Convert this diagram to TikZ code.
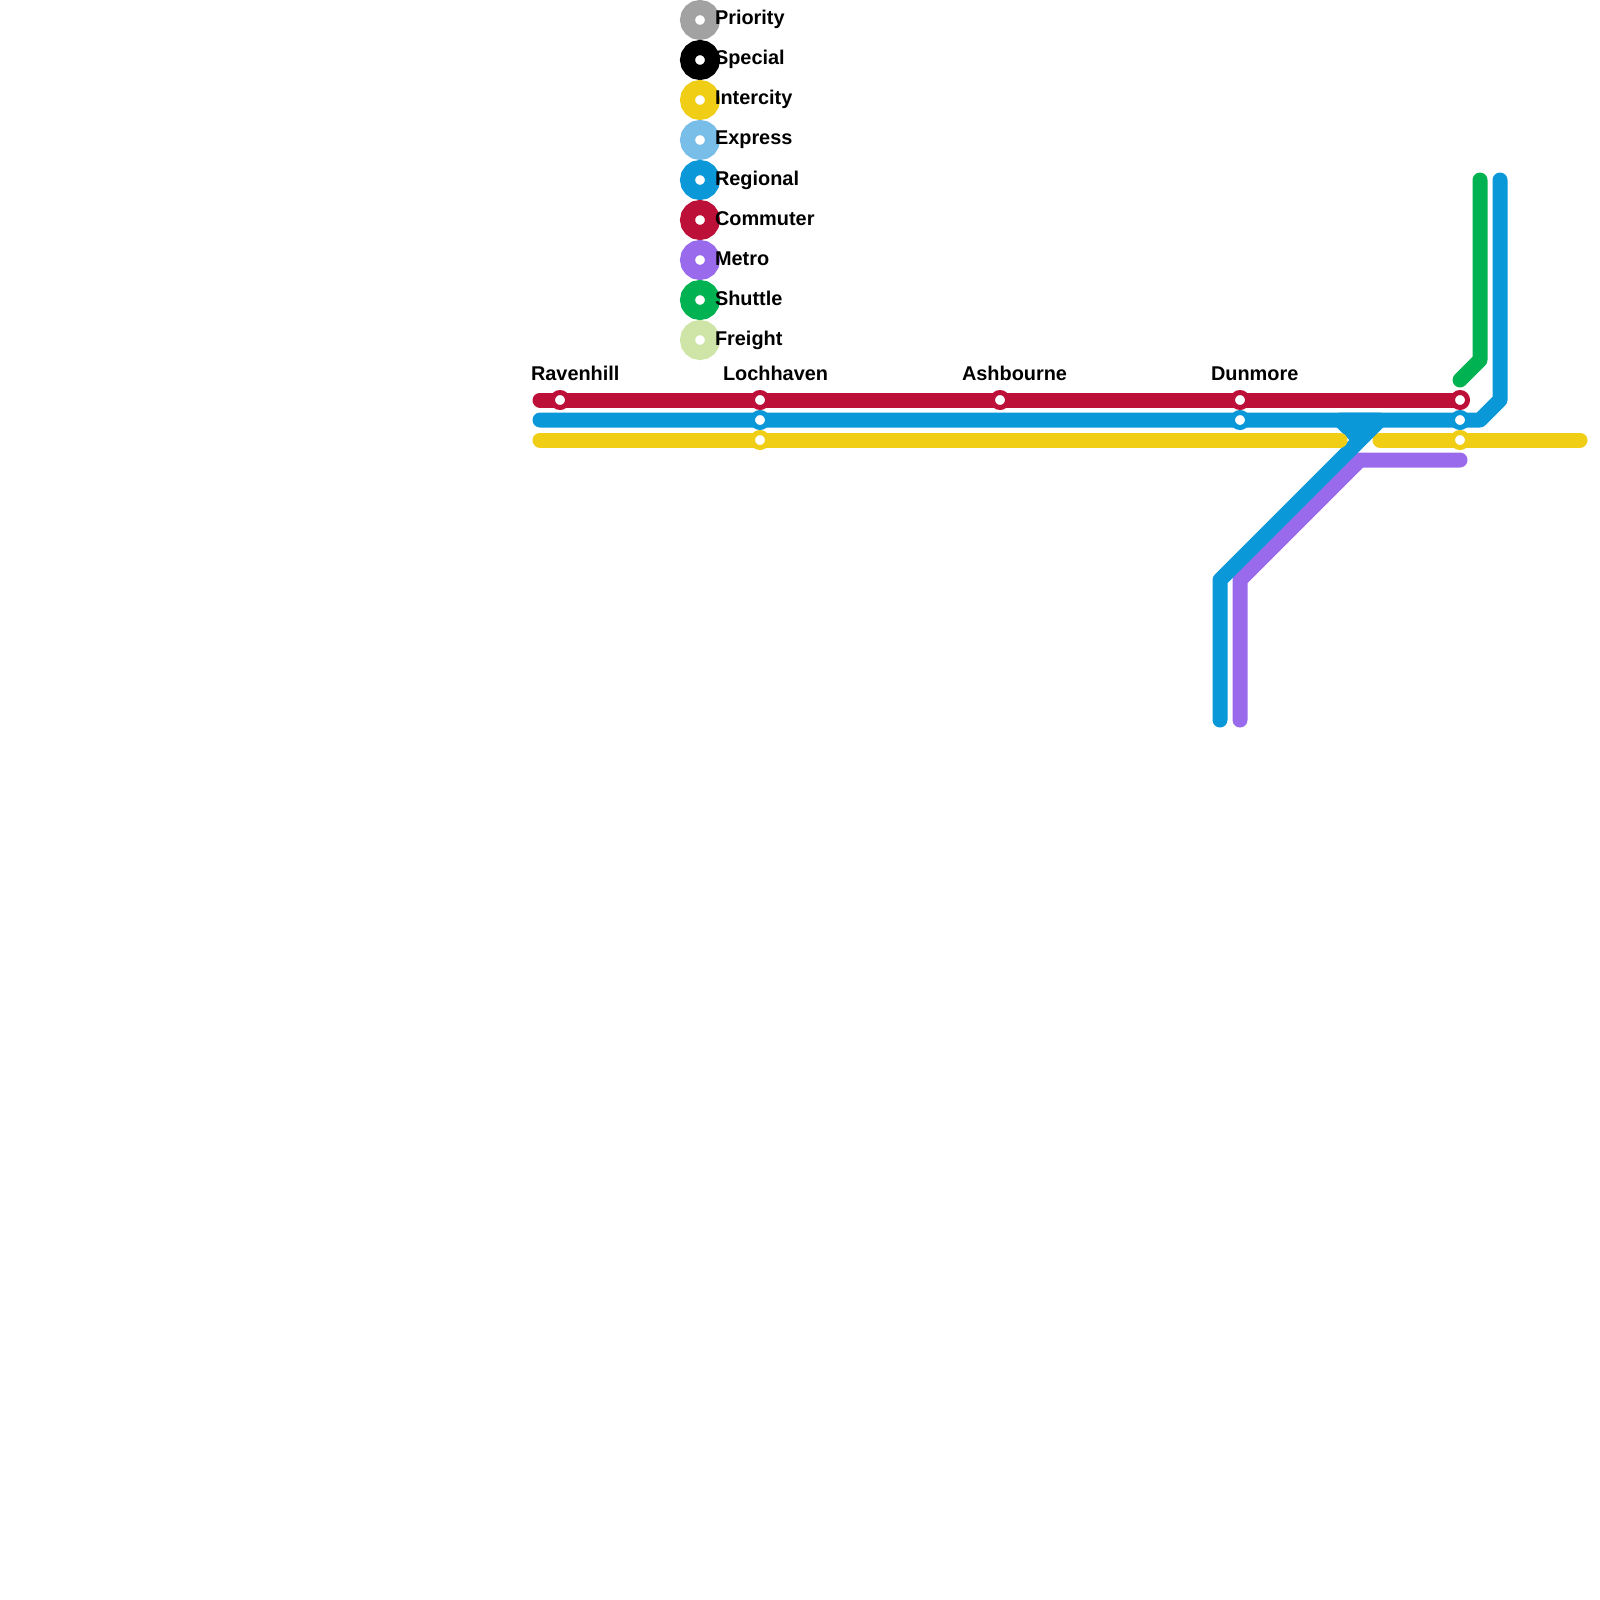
\documentclass[tikz,border=0pt]{standalone}
\usepackage{fontspec}
\setmainfont{Liberation Sans}
\definecolor{cRed}{HTML}{BD1038}
\definecolor{cBlue}{HTML}{0A98D8}
\definecolor{cYellow}{HTML}{F0CE15}
\definecolor{cPurple}{HTML}{996BEC}
\definecolor{cGreen}{HTML}{00B251}
\definecolor{cGrey}{HTML}{A2A2A2}
\definecolor{cSky}{HTML}{79BDE9}
\definecolor{cPale}{HTML}{CFE4A7}
\tikzset{
  x=1pt,y=-1pt,
  route/.style={draw=#1,line width=15pt,line cap=round,line join=round},
  stop/.style={circle,draw=#1,line width=5pt,fill=white,minimum size=15pt,inner sep=0pt,outer sep=0pt},
  legenddot/.style={circle,draw=#1,line width=15pt,fill=white,minimum size=25pt,inner sep=0pt,outer sep=0pt},
  lab/.style={anchor=base west,inner sep=0pt,outer sep=0pt,font=\fontsize{19.9}{23}\selectfont\bfseries,text=black},
}
\begin{document}
\begin{tikzpicture}
\useasboundingbox[fill=white] (0,0) rectangle (1600,1600);
% free ends and bends
\coordinate (rS) at (540,400);
\coordinate (rE) at (1460,400);
\coordinate (bS) at (540,420);
\coordinate (bB) at (1480,420);
\coordinate (bC) at (1500,400);
\coordinate (bE) at (1500,180);
\coordinate (yS) at (540,440);
\coordinate (yM) at (1340,440);
\coordinate (yN) at (1380,440);
\coordinate (yE) at (1580,440);
\coordinate (gS) at (1460,380);
\coordinate (gB) at (1480,360);
\coordinate (gE) at (1480,180);
\coordinate (pS) at (1460,460);
\coordinate (pB) at (1360,460);
\coordinate (pC) at (1240,580);
\coordinate (pE) at (1240,720);
\coordinate (aS) at (1220,720);
\coordinate (aB) at (1220,580);
\coordinate (aC) at (1380,420);
\coordinate (aD) at (1340,420);
\coordinate (aE) at (1360,440);
\coordinate (aF) at (1360,420);
% routes
\draw[route=cGreen] (gS) -- (gB) -- (gE);
\draw[route=cPurple] (pS) -- (pB) -- (pC) -- (pE);
\draw[route=cYellow] (yN) -- (yE);
\draw[route=cBlue] (aS) -- (aB) -- (aC) -- (aD) -- (aE) -- (aF);
\draw[route=cYellow] (yS) -- (yM);
\draw[route=cBlue] (bS) -- (bB) -- (bC) -- (bE);
\draw[route=cRed] (rS) -- (rE);
% stations
\node[stop=cRed] (ravR) at (560,400) {};
\node[stop=cRed] (lochR) at (760,400) {};
\node[stop=cBlue] (lochB) at (760,420) {};
\node[stop=cYellow] (lochY) at (760,440) {};
\node[stop=cRed] (ashR) at (1000,400) {};
\node[stop=cRed] (dunR) at (1240,400) {};
\node[stop=cBlue] (dunB) at (1240,420) {};
\node[stop=cRed] (endR) at (1460,400) {};
\node[stop=cBlue] (endB) at (1460,420) {};
\node[stop=cYellow] (endY) at (1460,440) {};
% station labels
\node[lab] (lRav) at (531,380) {Ravenhill};
\node[lab] (lLoch) at (723,380) {Lochhaven};
\node[lab] (lAsh) at (962,380) {Ashbourne};
\node[lab] (lDun) at (1211,380) {Dunmore};
% legend
\node[legenddot=cGrey] (d1) at (700,20) {};
\node[legenddot=black] (d2) at (700,60) {};
\node[legenddot=cYellow] (d3) at (700,100) {};
\node[legenddot=cSky] (d4) at (700,140) {};
\node[legenddot=cBlue] (d5) at (700,180) {};
\node[legenddot=cRed] (d6) at (700,220) {};
\node[legenddot=cPurple] (d7) at (700,260) {};
\node[legenddot=cGreen] (d8) at (700,300) {};
\node[legenddot=cPale] (d9) at (700,340) {};
\node[lab] (t1) at (715,25) {Priority};
\node[lab] (t2) at (715,65) {Special};
\node[lab] (t3) at (715,105) {Intercity};
\node[lab] (t4) at (715,145) {Express};
\node[lab] (t5) at (715,185) {Regional};
\node[lab] (t6) at (715,225) {Commuter};
\node[lab] (t7) at (715,265) {Metro};
\node[lab] (t8) at (715,305) {Shuttle};
\node[lab] (t9) at (715,345) {Freight};
\end{tikzpicture}
\end{document}
